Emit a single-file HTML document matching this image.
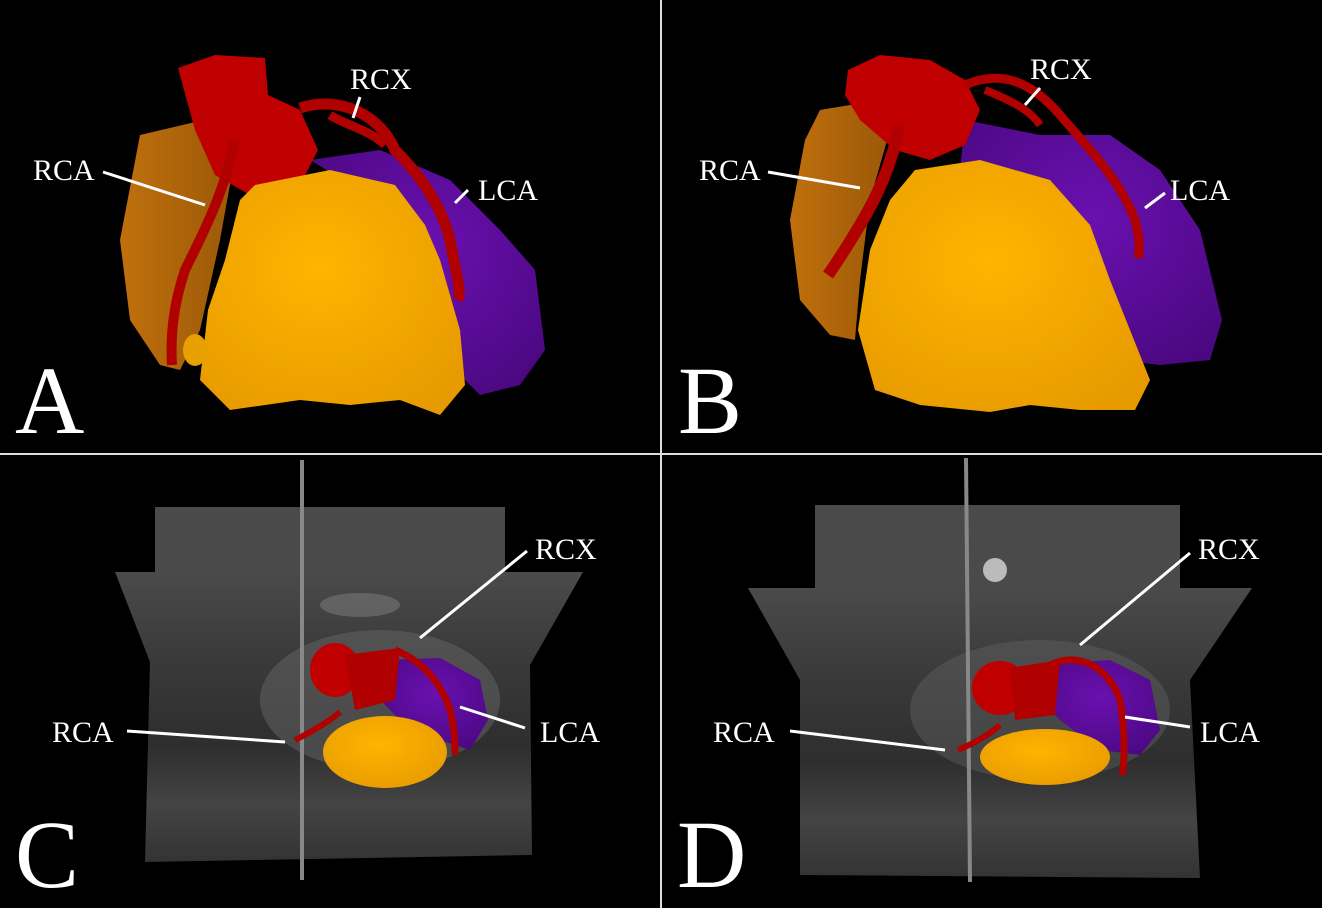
<!DOCTYPE html>
<html><head><style>
html,body{margin:0;padding:0;background:#000;}
svg{display:block;}
text{font-family:"Liberation Serif",serif;fill:#fff;}
</style></head><body>
<svg width="1322" height="908" viewBox="0 0 1322 908" xmlns="http://www.w3.org/2000/svg">
<defs>
<radialGradient id="yel" cx="45%" cy="40%" r="70%"><stop offset="0" stop-color="#ffb400"/><stop offset="1" stop-color="#e79a00"/></radialGradient>
<radialGradient id="pur" cx="50%" cy="40%" r="70%"><stop offset="0" stop-color="#6a10b0"/><stop offset="1" stop-color="#4a0880"/></radialGradient>
<linearGradient id="brn" x1="0" x2="1"><stop offset="0" stop-color="#c0700c"/><stop offset="1" stop-color="#9a5808"/></linearGradient>
<linearGradient id="mri" x1="0" y1="0" x2="0" y2="1"><stop offset="0" stop-color="#4a4a4a"/><stop offset="0.3" stop-color="#3a3a3a"/><stop offset="0.6" stop-color="#2e2e2e"/><stop offset="0.8" stop-color="#444"/><stop offset="1" stop-color="#333"/></linearGradient>
</defs>
<rect width="1322" height="908" fill="#000"/>

<!-- Panel A -->
<path d="M140 135 L225 115 L238 140 L220 240 L200 330 L180 370 L160 365 L130 320 L120 240 Z" fill="url(#brn)"/>
<path d="M310 160 L380 150 L450 180 L500 230 L535 270 L545 350 L520 385 L480 395 L455 370 L430 260 L360 190 Z" fill="url(#pur)"/>
<path d="M178 68 L215 55 L265 58 L268 95 L300 110 L318 150 L300 185 L250 195 L215 175 L195 130 Z" fill="#c00000"/>
<path d="M300 108 C340 95 380 115 395 150 C415 170 440 200 450 240 C455 270 462 290 458 300" stroke="#b00000" stroke-width="11" fill="none"/>
<path d="M330 115 C345 125 370 130 385 145" stroke="#b00000" stroke-width="9" fill="none"/>
<path d="M235 140 C225 190 205 230 185 270 C175 300 170 330 172 365" stroke="#b00000" stroke-width="10" fill="none"/>
<path d="M255 185 L330 170 L395 185 L425 225 L440 260 L460 330 L465 385 L440 415 L400 400 L350 405 L300 400 L230 410 L200 380 L208 310 L225 260 L240 200 Z" fill="url(#yel)"/>
<ellipse cx="195" cy="350" rx="12" ry="16" fill="#e8a000"/>
<line x1="103" y1="172" x2="205" y2="205" stroke="#fff" stroke-width="3"/>
<line x1="360" y1="97" x2="353" y2="118" stroke="#fff" stroke-width="3"/>
<line x1="468" y1="190" x2="455" y2="203" stroke="#fff" stroke-width="3"/>
<text x="33" y="180" font-size="30">RCA</text>
<text x="350" y="89" font-size="30">RCX</text>
<text x="478" y="200" font-size="30">LCA</text>
<text x="15" y="433" font-size="96">A</text>

<!-- Panel B -->
<path d="M820 110 L880 100 L890 130 L870 200 L860 280 L855 340 L830 335 L800 300 L790 220 L805 140 Z" fill="url(#brn)"/>
<path d="M965 120 L1040 135 L1110 135 L1160 170 L1200 230 L1222 320 L1210 360 L1160 365 L1120 360 L1100 270 L1040 190 L960 170 Z" fill="url(#pur)"/>
<path d="M848 70 L880 55 L930 60 L965 80 L980 110 L965 145 L930 160 L895 150 L860 120 L845 95 Z" fill="#c00000"/>
<path d="M965 85 C1000 70 1030 80 1060 115 C1090 150 1120 180 1135 220 C1140 240 1140 250 1138 258" stroke="#b00000" stroke-width="9" fill="none"/>
<path d="M985 90 C1010 100 1030 110 1040 125" stroke="#b00000" stroke-width="8" fill="none"/>
<path d="M900 125 C890 170 875 200 860 225 C845 250 835 265 828 275" stroke="#b00000" stroke-width="12" fill="none"/>
<path d="M915 170 L980 160 L1050 180 L1090 225 L1110 280 L1130 330 L1150 380 L1135 410 L1080 410 L1030 405 L990 412 L920 405 L875 390 L858 330 L870 250 L890 200 Z" fill="url(#yel)"/>
<line x1="768" y1="172" x2="860" y2="188" stroke="#fff" stroke-width="3"/>
<line x1="1040" y1="88" x2="1025" y2="105" stroke="#fff" stroke-width="3"/>
<line x1="1165" y1="193" x2="1145" y2="208" stroke="#fff" stroke-width="3"/>
<text x="699" y="180" font-size="30">RCA</text>
<text x="1030" y="79" font-size="30">RCX</text>
<text x="1170" y="200" font-size="30">LCA</text>
<text x="678" y="433" font-size="96">B</text>

<!-- dividers -->
<line x1="661" y1="0" x2="661" y2="908" stroke="#ddd" stroke-width="2"/>
<line x1="0" y1="454" x2="1322" y2="454" stroke="#ddd" stroke-width="2"/>

<!-- Panel C -->
<rect x="155" y="507" width="350" height="66" fill="#4a4a4a"/>
<path d="M115 572 L583 572 L530 665 L532 855 L145 862 L150 662 Z" fill="url(#mri)"/>
<ellipse cx="380" cy="700" rx="120" ry="70" fill="#666" opacity="0.5"/>
<ellipse cx="360" cy="605" rx="40" ry="12" fill="#777" opacity="0.6"/>
<line x1="302" y1="460" x2="302" y2="880" stroke="#888" stroke-width="4"/>
<path d="M380 660 L440 658 L480 680 L488 720 L470 750 L440 740 L400 720 L380 700 Z" fill="url(#pur)"/>
<ellipse cx="385" cy="752" rx="62" ry="36" fill="url(#yel)"/>
<ellipse cx="335" cy="670" rx="25" ry="27" fill="#c00000"/>
<path d="M345 655 L400 648 L395 700 L355 710 Z" fill="#b00000"/>
<path d="M395 650 C420 660 440 680 450 710 C455 730 455 745 455 755" stroke="#b00000" stroke-width="7" fill="none"/>
<path d="M340 712 C325 725 305 735 295 740" stroke="#b00000" stroke-width="6" fill="none"/>
<line x1="127" y1="731" x2="285" y2="742" stroke="#fff" stroke-width="3"/>
<line x1="527" y1="551" x2="420" y2="638" stroke="#fff" stroke-width="3"/>
<line x1="525" y1="728" x2="460" y2="707" stroke="#fff" stroke-width="3"/>
<text x="52" y="742" font-size="30">RCA</text>
<text x="535" y="559" font-size="30">RCX</text>
<text x="540" y="742" font-size="30">LCA</text>
<text x="15" y="887" font-size="96">C</text>

<!-- Panel D -->
<rect x="815" y="505" width="365" height="84" fill="#4a4a4a"/>
<path d="M748 588 L1252 588 L1190 680 L1200 878 L800 875 L800 680 Z" fill="url(#mri)"/>
<ellipse cx="1040" cy="710" rx="130" ry="70" fill="#666" opacity="0.4"/>
<circle cx="995" cy="570" r="12" fill="#bbb"/>
<line x1="966" y1="458" x2="970" y2="882" stroke="#888" stroke-width="4"/>
<path d="M1040 665 L1110 660 L1150 680 L1160 730 L1140 755 L1100 750 L1060 720 L1040 700 Z" fill="url(#pur)"/>
<ellipse cx="1045" cy="757" rx="65" ry="28" fill="url(#yel)"/>
<ellipse cx="1000" cy="688" rx="28" ry="27" fill="#c00000"/>
<path d="M1010 668 L1060 660 L1055 715 L1015 720 Z" fill="#b00000"/>
<path d="M1050 665 C1080 650 1110 670 1120 700 C1125 730 1125 760 1122 775" stroke="#b00000" stroke-width="7" fill="none"/>
<path d="M1000 725 C985 738 970 745 958 750" stroke="#b00000" stroke-width="6" fill="none"/>
<line x1="790" y1="731" x2="945" y2="750" stroke="#fff" stroke-width="3"/>
<line x1="1190" y1="553" x2="1080" y2="645" stroke="#fff" stroke-width="3"/>
<line x1="1190" y1="727" x2="1125" y2="717" stroke="#fff" stroke-width="3"/>
<text x="713" y="742" font-size="30">RCA</text>
<text x="1198" y="559" font-size="30">RCX</text>
<text x="1200" y="742" font-size="30">LCA</text>
<text x="677" y="887" font-size="96">D</text>
</svg>
</body></html>
